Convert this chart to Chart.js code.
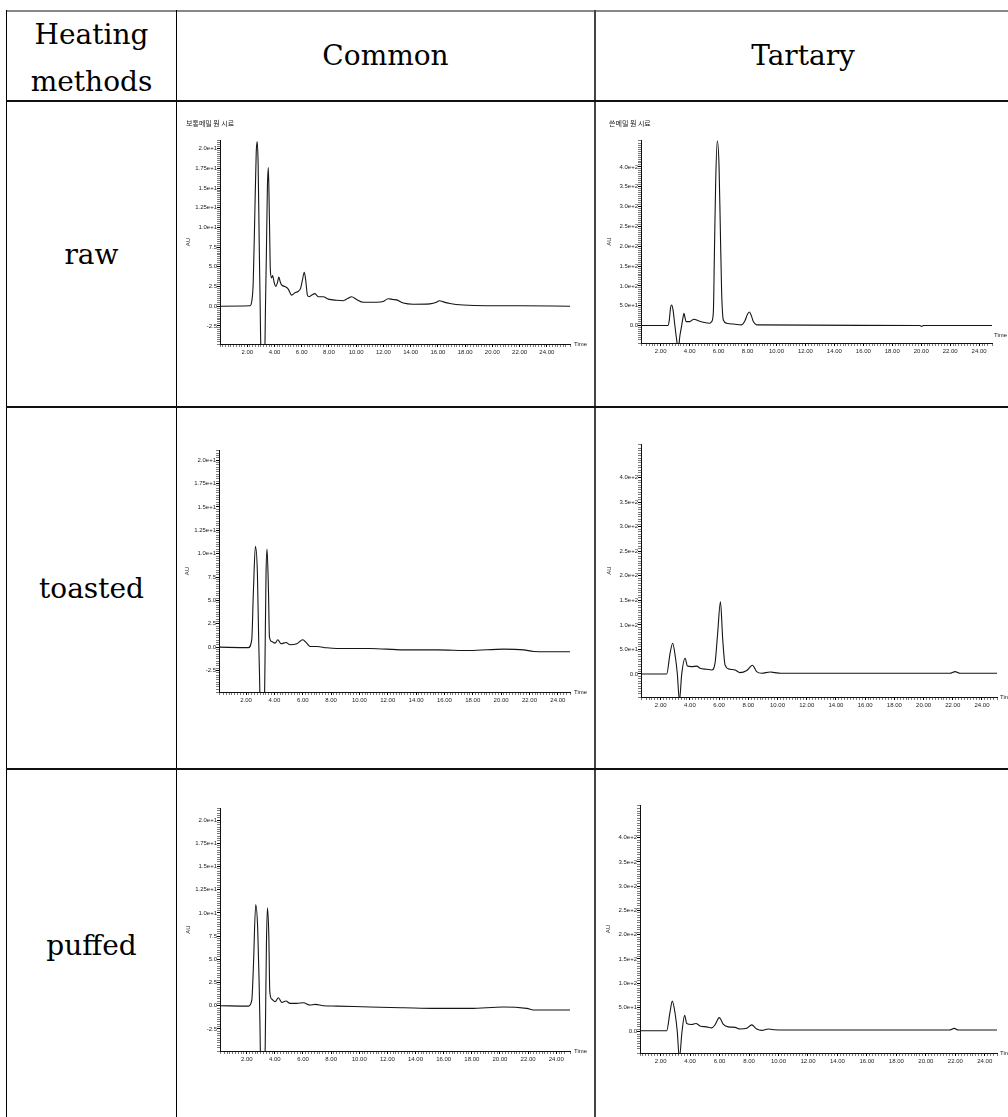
<!DOCTYPE html>
<html>
<head>
<meta charset="utf-8">
<script src="https://cdn.jsdelivr.net/npm/chart.js@4.4.1/dist/chart.umd.min.js"></script>
<style>
html, body { margin: 0; padding: 0; background: #fff; }
#page { position: relative; width: 1008px; height: 1117px; overflow: hidden; background: #fff; font-family: "DejaVu Serif", serif; color: #000; }
.ln { position: absolute; background: #000; }
.lbl { position: absolute; font-size: 28px; text-align: center; }
canvas { position: absolute; display: block; }
</style>
</head>
<body>
<div id="page">
  <!-- table lines -->
  <div class="ln" style="left:6px;top:10px;width:1002px;height:2px;background:#888"></div>
  <div class="ln" style="left:6px;top:10px;width:1px;height:1107px"></div>
  <div class="ln" style="left:176px;top:10px;width:1px;height:1107px"></div>
  <div class="ln" style="left:594px;top:10px;width:2px;height:1107px;background:#444"></div>
  <div class="ln" style="left:6px;top:100px;width:1002px;height:2px;background:#111"></div>
  <div class="ln" style="left:6px;top:406px;width:1002px;height:2px;background:#111"></div>
  <div class="ln" style="left:6px;top:768px;width:1002px;height:2px;background:#111"></div>

  <!-- header / row labels -->
  <div class="lbl" style="left:7px;top:11px;width:169px;line-height:47px">Heating<br>methods</div>
  <div class="lbl" style="left:177px;top:11px;width:417px;line-height:90px">Common</div>
  <div class="lbl" style="left:596px;top:11px;width:414px;line-height:90px">Tartary</div>
  <div class="lbl" style="left:7px;top:102px;width:169px;line-height:305px">raw</div>
  <div class="lbl" style="left:7px;top:408px;width:169px;line-height:361px">toasted</div>
  <div class="lbl" style="left:7px;top:770px;width:169px;line-height:351px">puffed</div>
</div>
<script>
//Метки осей
const timeTicks = [2, 4, 6, 8, 10, 12, 14, 16, 18, 20, 22, 24];
const timeTickLabels = ["2.00", "4.00", "6.00", "8.00", "10.00", "12.00", "14.00", "16.00", "18.00", "20.00", "22.00", "24.00"];
const commonAUTicks = [-2.5, 0, 2.5, 5, 7.5, 10, 12.5, 15, 17.5, 20];
const commonAUTickLabels = ["-2.5", "0.0", "2.5", "5.0", "7.5", "1.0e+1", "1.25e+1", "1.5e+1", "1.75e+1", "2.0e+1"];
const tartaryAUTicks = [0, 50, 100, 150, 200, 250, 300, 350, 400];
const tartaryAUTickLabels = ["0.0", "5.0e+1", "1.0e+2", "1.5e+2", "2.0e+2", "2.5e+2", "3.0e+2", "3.5e+2", "4.0e+2"];

//Common - raw
const commonRawTime = [0, 2.2, 2.32, 2.44, 2.56, 2.66, 2.73, 2.8, 2.88, 2.95, 3.0, 3.1, 3.22, 3.3, 3.34, 3.4, 3.48, 3.55, 3.62, 3.7, 3.79, 3.86, 3.98, 4.1, 4.22, 4.32, 4.42, 4.52, 4.76, 5.0, 5.26, 5.5, 5.75, 5.92, 6.04, 6.19, 6.3, 6.42, 6.55, 6.72, 6.97, 7.21, 7.58, 7.95, 8.56, 9.05, 9.4, 9.66, 10.03, 10.52, 11.5, 11.99, 12.35, 12.7, 12.96, 13.46, 14.19, 15.41, 15.9, 16.1, 16.39, 16.88, 17.86, 19.57, 22.02, 25.7];
const commonRawAU = [0, 0.05, 0.5, 3.0, 12, 19.5, 20.9, 18, 8, 0, -6, -9, -9, -5, 0, 6, 15, 17.6, 12, 4.5, 3.6, 3.9, 3.0, 2.5, 3.0, 3.7, 3.1, 2.7, 2.5, 2.2, 1.4, 1.7, 1.9, 2.3, 3.2, 4.3, 3.2, 1.4, 1.2, 1.4, 1.6, 1.2, 1.2, 0.9, 0.75, 0.7, 1.0, 1.2, 0.85, 0.5, 0.5, 0.6, 0.95, 0.85, 0.8, 0.4, 0.25, 0.3, 0.5, 0.7, 0.55, 0.35, 0.15, 0.05, 0.05, 0];

//Tartary - raw
const tartaryRawTime = [0.64, 2.5, 2.6, 2.68, 2.76, 2.85, 2.98, 3.1, 3.21, 3.33, 3.45, 3.53, 3.61, 3.68, 3.75, 4.0, 4.3, 4.6, 4.94, 5.4, 5.52, 5.64, 5.71, 5.8, 5.91, 6.03, 6.12, 6.21, 6.33, 6.56, 7.13, 7.59, 7.82, 7.98, 8.12, 8.26, 8.4, 8.63, 19.9, 20.03, 20.15, 24.89];
const tartaryRawAU = [0, 0, 15, 45, 52, 40, 0, -35, -60, -25, 0, 18, 31, 20, 10, 10, 16, 12, 8.4, 6, 10, 35, 178, 363, 466, 405, 245, 86, 14, 6, 3.4, 1.7, 12, 27, 34, 25, 10, 1.7, 0, -2, 0, 0];

//Common - toasted
const commonToastedTime = [0.1, 2.16, 2.4, 2.52, 2.66, 2.8, 2.89, 2.95, 3.0, 3.1, 3.25, 3.3, 3.34, 3.41, 3.48, 3.58, 3.65, 3.81, 4.05, 4.24, 4.47, 4.82, 5.1, 5.58, 6.0, 6.28, 6.52, 7.0, 7.69, 8.4, 10.75, 13.1, 15.46, 17.8, 20.16, 21.6, 22.3, 24.86];
const commonToastedAU = [0, -0.05, 0.8, 6.1, 10.8, 7.9, 0.8, -3, -7, -9, -9, -6, -1, 7.9, 10.5, 6.1, 1.1, 0.6, 0.43, 0.8, 0.36, 0.5, 0.25, 0.36, 0.8, 0.43, 0.07, 0.07, -0.07, -0.14, -0.14, -0.29, -0.29, -0.36, -0.21, -0.29, -0.46, -0.5];

//Tartary - toasted
const tartaryToastedTime = [0.65, 2.41, 2.64, 2.82, 3.0, 3.14, 3.28, 3.44, 3.67, 3.83, 4.12, 4.47, 4.7, 5.15, 5.5, 5.72, 5.9, 6.09, 6.25, 6.41, 6.75, 7.1, 7.43, 7.89, 8.28, 8.57, 8.92, 9.49, 9.83, 10.2, 21.8, 22.16, 22.5, 25.03];
const tartaryToastedAU = [0, 0, 42, 62.5, 35, 0, -55, 0, 32, 16, 15, 16, 11.5, 9.5, 8, 22, 83, 147, 69, 18, 9.5, 8, 2.7, 7, 17.7, 4.8, 1.4, 4, 2.7, 1.4, 1.4, 4.8, 1.4, 1.4];

//Common - puffed
const commonPuffedTime = [0.1, 2.12, 2.36, 2.47, 2.64, 2.78, 2.88, 2.94, 2.98, 3.1, 3.25, 3.3, 3.34, 3.4, 3.47, 3.57, 3.64, 3.78, 4.02, 4.25, 4.49, 4.79, 5.08, 5.56, 6.03, 6.5, 6.86, 7.45, 8.4, 10.76, 13.14, 15.5, 17.88, 20.25, 21.9, 22.5, 24.98];
const commonPuffedAU = [0, -0.05, 0.6, 4, 10.9, 8.3, 2.6, -2, -6, -9, -9, -6, -1, 6.5, 10.56, 7.6, 1.5, 0.72, 0.43, 0.86, 0.36, 0.5, 0.25, 0.25, 0.32, 0.07, 0.14, 0, -0.04, -0.14, -0.22, -0.29, -0.29, -0.14, -0.29, -0.47, -0.47];

//Tartary - puffed
const tartaryPuffedTime = [0.6, 2.41, 2.64, 2.79, 2.98, 3.13, 3.27, 3.45, 3.63, 3.77, 4.1, 4.4, 4.67, 5.12, 5.46, 5.69, 5.98, 6.26, 6.6, 7.05, 7.39, 7.84, 8.18, 8.52, 8.86, 9.31, 9.76, 10.1, 21.6, 21.93, 22.2, 24.83];
const tartaryPuffedAU = [2, 2, 41, 63, 38, 0, -55, 0, 34, 17, 15, 17, 12, 10, 8, 14, 29, 15, 10, 9, 5.5, 7, 14, 5.5, 2.7, 5.5, 4, 3.4, 3.4, 6.9, 3.4, 3.4];

//Размещение панелей
const panels = [
    { cell: [177, 102, 594, 406], plot: [220, 140, 570, 344], x: [0, 25.7], y: [-4.8, 21.1], kind: "common", time: commonRawTime, au: commonRawAU, title: "보통메밀 원 시료", titleAt: [186, 123], timeOff: [4, 0] },
    { cell: [596, 102, 1008, 406], plot: [641, 140, 992, 343], x: [0.64, 24.89], y: [-44, 468], kind: "tartary", time: tartaryRawTime, au: tartaryRawAU, title: "쓴메밀 원 시료", titleAt: [609, 123], timeOff: [2, -8] },
    { cell: [177, 408, 594, 768], plot: [219, 450, 570, 692], x: [0.09, 24.86], y: [-4.8, 21.1], kind: "common", time: commonToastedTime, au: commonToastedAU, timeOff: [4, 0] },
    { cell: [596, 408, 1008, 768], plot: [641, 444, 997, 697], x: [0.65, 25.03], y: [-47, 468.6], kind: "tartary", time: tartaryToastedTime, au: tartaryToastedAU, timeOff: [3, 0] },
    { cell: [177, 770, 594, 1117], plot: [220, 808, 570, 1051], x: [0.1, 24.98], y: [-4.88, 21.3], kind: "common", time: commonPuffedTime, au: commonPuffedAU, timeOff: [4, 0] },
    { cell: [596, 770, 1008, 1117], plot: [640, 805, 997, 1053], x: [0.6, 24.83], y: [-43.9, 467.5], kind: "tartary", time: tartaryPuffedTime, au: tartaryPuffedAU, timeOff: [3, 0] }
];

const Y_AXIS_W = 30;
const X_AXIS_H = 16;

//Подпись метки по списку
const labelFor = (v, ticks, labels) => {
    for (let i = 0; i < ticks.length; i++) if (Math.abs(v - ticks[i]) < 1e-6) return labels[i];
    return "";
};

//Подписи панели: заголовок, AU, Time
const panelText = {
    id: "panelText",
    afterDraw(chart, args, opts) {
        const { ctx, chartArea: a } = chart;
        ctx.save();
        ctx.fillStyle = "#222";
        ctx.textBaseline = "middle";
        if (opts.title) {
            ctx.font = '7px "Noto Sans CJK KR"';
            ctx.textAlign = "left";
            ctx.fillText(opts.title, opts.titleAt[0] - opts.cell[0], opts.titleAt[1] - opts.cell[1]);
        }
        ctx.font = '6px "Liberation Sans"';
        ctx.textAlign = "left";
        ctx.fillText("Time", a.right + opts.timeOff[0], a.bottom + opts.timeOff[1]);
        ctx.translate(a.left - 32, (a.top + a.bottom) / 2);
        ctx.rotate(-Math.PI / 2);
        ctx.textAlign = "center";
        ctx.fillText("AU", 0, 0);
        ctx.restore();
    }
};

const page = document.getElementById("page");

panels.forEach(p => {
    const [cx0, cy0, cx1, cy1] = p.cell;
    const [L, T, R, B] = p.plot;
    const cv = document.createElement("canvas");
    cv.width = cx1 - cx0;
    cv.height = cy1 - cy0;
    cv.style.left = cx0 + "px";
    cv.style.top = cy0 + "px";
    page.appendChild(cv);

    const isCommon = p.kind === "common";
    const yTicks = isCommon ? commonAUTicks : tartaryAUTicks;
    const yLabels = isCommon ? commonAUTickLabels : tartaryAUTickLabels;

    new Chart(cv.getContext("2d"), {
        type: "line",
        data: {
            datasets: [
                {
                    data: p.time.map((t, i) => ({ x: t, y: p.au[i] })),
                    borderColor: "#151515",
                    borderWidth: 1.1,
                    pointRadius: 0,
                    cubicInterpolationMode: "monotone",
                    fill: false
                }
            ]
        },
        options: {
            responsive: false,
            animation: false,
            events: [],
            layout: {
                padding: { left: L - cx0 - Y_AXIS_W, top: T - cy0, right: cx1 - R, bottom: cy1 - B - X_AXIS_H }
            },
            plugins: {
                legend: { display: false },
                tooltip: { enabled: false },
                panelText: { title: p.title, titleAt: p.titleAt, cell: p.cell, timeOff: p.timeOff }
            },
            scales: {
                x: {
                    type: "linear",
                    min: p.x[0],
                    max: p.x[1],
                    afterFit: s => { s.height = X_AXIS_H; },
                    border: { display: true, color: "#111", width: 1 },
                    grid: {
                        drawOnChartArea: false,
                        tickLength: 3,
                        tickColor: c => (labelFor(c.tick.value, timeTicks, timeTickLabels) ? "#000" : "#444"),
                        tickWidth: c => (labelFor(c.tick.value, timeTicks, timeTickLabels) ? 1 : 0.7)
                    },
                    ticks: {
                        stepSize: 0.2,
                        autoSkip: false,
                        maxRotation: 0,
                        minRotation: 0,
                        padding: 2,
                        color: "#222",
                        font: { family: "Liberation Sans", size: 6 },
                        callback: v => labelFor(v, timeTicks, timeTickLabels)
                    }
                },
                y: {
                    type: "linear",
                    min: p.y[0],
                    max: p.y[1],
                    afterFit: s => { s.width = Y_AXIS_W; },
                    border: { display: true, color: "#111", width: 1 },
                    grid: {
                        drawOnChartArea: false,
                        tickLength: 3,
                        tickColor: c => (labelFor(c.tick.value, yTicks, yLabels) ? "#000" : "#444"),
                        tickWidth: c => (labelFor(c.tick.value, yTicks, yLabels) ? 1 : 0.7)
                    },
                    ticks: {
                        stepSize: isCommon ? 0.25 : 5,
                        autoSkip: false,
                        padding: 0,
                        color: "#222",
                        font: { family: "Liberation Sans", size: 6 },
                        callback: v => labelFor(v, yTicks, yLabels)
                    }
                }
            }
        },
        plugins: [panelText]
    });
});
</script>
</body>
</html>
